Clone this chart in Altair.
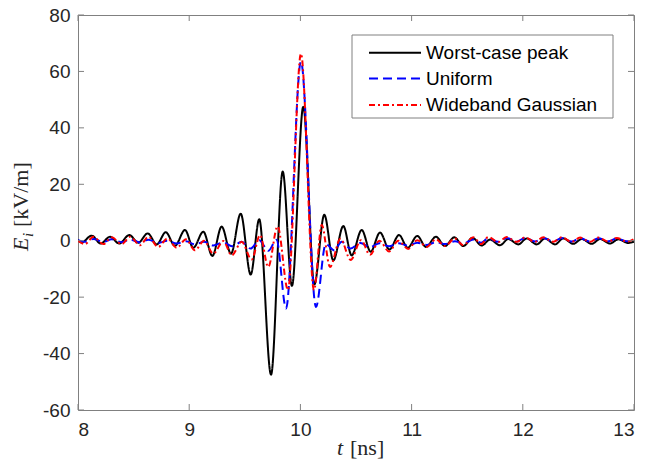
import altair as alt
import pandas as pd

# ---------------- data ----------------
series_names = ["Worst-case peak", "Uniform", "Wideband Gaussian"]

t_worst = [8.000, 8.033, 8.123, 8.204, 8.288, 8.371, 8.461, 8.542, 8.627, 8.708,
           8.789, 8.872, 8.962, 9.037, 9.127, 9.208, 9.292, 9.376, 9.463, 9.553,
           9.630, 9.736, 9.841, 9.924, 10.026, 10.125, 10.215, 10.296, 10.386, 10.461,
           10.551, 10.632, 10.716, 10.800, 10.887, 10.965, 11.051, 11.129, 11.219, 11.300,
           11.384, 11.465, 11.548, 11.630, 11.705, 11.795, 11.870, 11.960, 12.035, 12.125,
           12.200, 12.290, 12.364, 12.454, 12.530, 12.620, 12.694, 12.784, 12.859, 12.949,
           13.000]
v_worst = [0.3, -0.6, 1.8, -1.0, 1.4, -1.0, 2.0, -0.7, 2.6, -1.3,
           3.0, -1.8, 3.8, -2.5, 3.2, -5.4, 5.0, -4.6, 9.6, -12.0,
           7.6, -47.5, 24.5, -16.0, 47.5, -15.5, 9.2, -7.0, 5.2, -5.2,
           3.8, -3.9, 2.9, -3.1, 2.0, -2.5, 1.7, -2.2, 1.4, -1.9,
           1.2, -1.9, 1.0, -1.7, 0.4, -1.6, 0.6, -1.3, 0.8, -1.3,
           0.8, -1.3, 0.8, -1.1, 0.6, -1.1, 0.6, -1.0, 0.5, -0.8,
           -0.3]

t_uniform = [8.000, 8.063, 8.138, 8.228, 8.303, 8.393, 8.468, 8.558, 8.632, 8.722,
             8.803, 8.888, 8.971, 9.052, 9.133, 9.217, 9.307, 9.385, 9.472, 9.552,
             9.630, 9.711, 9.785, 9.871, 10.005, 10.140, 10.228, 10.305, 10.371, 10.450,
             10.540, 10.626, 10.710, 10.797, 10.880, 10.970, 11.051, 11.136, 11.219, 11.300,
             11.390, 11.465, 11.555, 11.625, 11.690, 11.780, 11.855, 11.945, 12.020, 12.110,
             12.185, 12.275, 12.350, 12.440, 12.515, 12.605, 12.680, 12.770, 12.845, 12.935,
             13.000]
v_uniform = [0.2, -0.4, 0.6, -0.4, 0.5, -0.5, 0.4, -0.6, 0.3, -0.8,
             0.0, -1.0, -0.2, -1.3, -0.4, -1.7, -0.6, -2.0, -0.4, -2.8,
             0.2, -3.6, 0.3, -24.0, 63.5, -23.5, -1.2, -3.4, -0.4, -2.8,
             -0.8, -2.3, -0.9, -2.0, -0.9, -1.7, -0.7, -1.5, -0.5, -1.2,
             -0.2, -1.0, 0.4, -0.7, 0.9, -0.4, 1.0, -0.3, 1.0, -0.3,
             1.0, -0.3, 1.0, -0.3, 0.9, -0.3, 0.9, -0.2, 0.8, -0.2,
             0.5]

t_gauss = [8.000, 8.063, 8.138, 8.228, 8.303, 8.393, 8.468, 8.558, 8.632, 8.722,
           8.803, 8.888, 8.971, 9.052, 9.133, 9.217, 9.307, 9.382, 9.472, 9.562,
           9.637, 9.711, 9.795, 9.888, 10.005, 10.122, 10.192, 10.266, 10.360, 10.452,
           10.545, 10.626, 10.710, 10.797, 10.880, 10.970, 11.051, 11.136, 11.219, 11.300,
           11.390, 11.465, 11.555, 11.625, 11.690, 11.780, 11.855, 11.945, 12.020, 12.110,
           12.185, 12.275, 12.350, 12.440, 12.515, 12.605, 12.680, 12.770, 12.845, 12.935,
           13.000]
v_gauss = [0.0, -1.2, 1.4, -1.2, 1.2, -1.2, 1.4, -1.6, 1.4, -2.2,
           0.8, -2.5, 0.5, -3.4, 0.0, -4.6, -0.1, -5.2, -0.4, -6.7,
           2.0, -9.3, 5.1, -17.5, 66.3, -17.5, 5.6, -9.3, 0.7, -6.8,
           0.2, -5.0, 0.0, -3.8, 0.0, -2.9, 0.2, -2.2, 0.5, -1.9,
           0.8, -1.6, 1.2, -1.2, 1.3, -0.5, 1.3, -0.4, 1.2, -0.4,
           1.2, -0.4, 1.2, -0.4, 1.1, -0.4, 1.1, -0.3, 1.0, -0.3,
           0.6]

x_ticks = [8, 9, 10, 11, 12, 13]
y_ticks = [-60, -40, -20, 0, 20, 40, 60, 80]

# ---------------- styling ----------------
W, H = 556, 395
TOP = 15          # page y of the plot top (8px body margin + padding)
LEFT = 78         # page x of the plot left edge
BOX = "#808080"
TXT = "#262626"
colors = ["#000000", "#0000ff", "#ff0000"]
dashes = [[1, 0], [9, 5], [6, 3, 2, 3]]
FS = 19

xs = alt.Scale(domain=[8, 13], nice=False, zero=False)
ys = alt.Scale(domain=[-60, 80], nice=False, zero=False)

x_axis = alt.Axis(values=x_ticks, title=None, grid=False, domain=False, ticks=False,
                  labelFont="Liberation Sans", labelFontSize=FS, labelColor=TXT,
                  labelPadding=10, labelExpr="datum.value + ''")
y_axis = alt.Axis(values=y_ticks, title=None, grid=False, domain=False, ticks=False,
                  labelFont="Liberation Sans", labelFontSize=FS, labelColor=TXT,
                  labelPadding=8, labelExpr="datum.value + ''")

series_data = [(t_worst, v_worst), (t_uniform, v_uniform), (t_gauss, v_gauss)]

layers = []
for i, (tt, vv) in enumerate(series_data):
    df = pd.DataFrame({"t": tt, "v": vv, "series": series_names[i]})
    layers.append(
        alt.Chart(df).mark_line(color=colors[i], strokeDash=dashes[i], strokeWidth=2,
                                interpolate="monotone", clip=True)
        .encode(x=alt.X("t:Q", scale=xs, axis=x_axis),
                y=alt.Y("v:Q", scale=ys, axis=y_axis))
    )

# inward ticks on all four sides (MATLAB box style)
dfx = pd.DataFrame({"tx": x_ticks})
dfy = pd.DataFrame({"ty": y_ticks})
TL = 6
layers.append(alt.Chart(dfx).mark_rule(color=BOX, strokeWidth=1).encode(
    x=alt.X("tx:Q", scale=xs, axis=x_axis), y=alt.value(H), y2=alt.value(H - TL)))
layers.append(alt.Chart(dfx).mark_rule(color=BOX, strokeWidth=1).encode(
    x=alt.X("tx:Q", scale=xs, axis=x_axis), y=alt.value(0), y2=alt.value(TL)))
layers.append(alt.Chart(dfy).mark_rule(color=BOX, strokeWidth=1).encode(
    y=alt.Y("ty:Q", scale=ys, axis=y_axis), x=alt.value(0), x2=alt.value(TL)))
layers.append(alt.Chart(dfy).mark_rule(color=BOX, strokeWidth=1).encode(
    y=alt.Y("ty:Q", scale=ys, axis=y_axis), x=alt.value(W), x2=alt.value(W - TL)))

# legend (drawn manually, MATLAB style); page coords minus plot origin
one = pd.DataFrame({"a": [0]})
layers.append(alt.Chart(one).mark_rect(fill="white", stroke=BOX, strokeWidth=1).encode(
    x=alt.value(352 - LEFT), x2=alt.value(613 - LEFT), y=alt.value(35 - TOP), y2=alt.value(118 - TOP)))
leg_y = [52.7 - TOP, 78.5 - TOP, 105 - TOP]
for i, name in enumerate(series_names):
    layers.append(alt.Chart(one).mark_rule(color=colors[i], strokeDash=dashes[i], strokeWidth=2).encode(
        x=alt.value(369 - LEFT), x2=alt.value(421 - LEFT), y=alt.value(leg_y[i])))
    layers.append(alt.Chart(one).mark_text(align="left", baseline="middle", font="Liberation Sans",
                                           fontSize=FS, color="#000000").encode(
        x=alt.value(426 - LEFT), y=alt.value(leg_y[i]), text=alt.value(name)))

# axis titles (LaTeX-like, built from pieces)
def txt(s, x, y, size, style="normal", angle=0):
    return alt.Chart(one).mark_text(align="left", baseline="alphabetic", font="Liberation Serif",
                                    fontSize=size, fontStyle=style, color=TXT, angle=angle).encode(
        x=alt.value(x - LEFT), y=alt.value(y - TOP), text=alt.value(s))

layers.append(txt("t", 337, 455, 22, "italic"))
layers.append(txt("[ns]", 350, 455, 22))
layers.append(txt("E", 28, 251, 22, "italic", 270))
layers.append(txt("i", 33, 237, 15, "italic", 270))
layers.append(txt("[kV/m]", 28, 227, 22, "normal", 270))

chart = alt.layer(*layers).properties(
    width=W, height=H,
    autosize=alt.AutoSizeParams(type="none"),
    padding={"left": LEFT - 8, "top": TOP - 8, "right": 645 - 8 - LEFT - W - 1,
             "bottom": 460 - TOP - H},
    background="white",
).configure_view(stroke=BOX, strokeWidth=1)

chart.save("out.html", embed_options={"renderer": "svg", "actions": False})
